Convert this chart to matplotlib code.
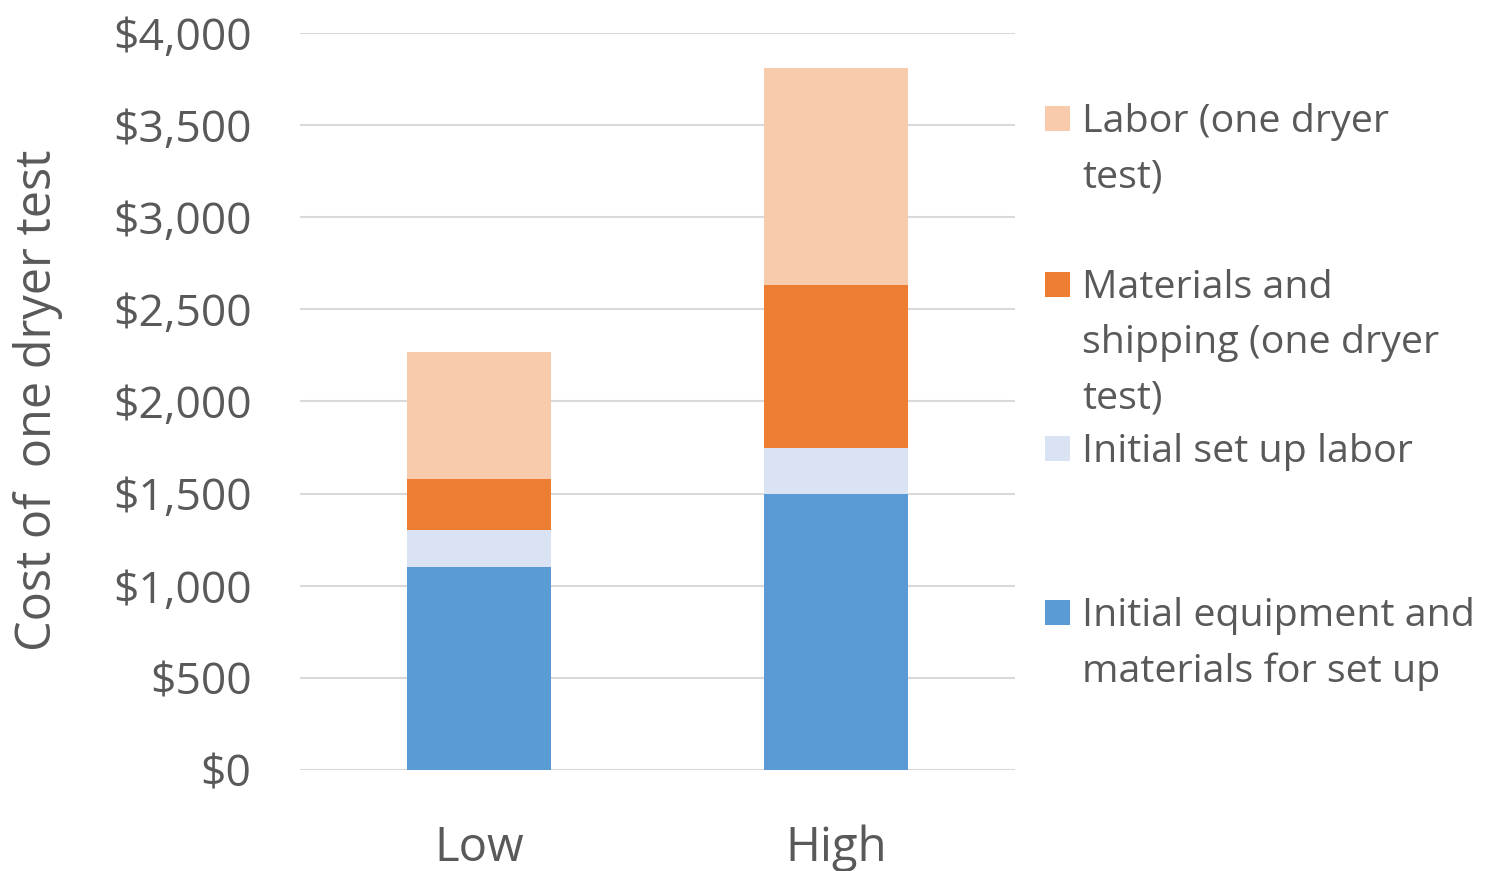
import matplotlib
matplotlib.use("Agg")
import matplotlib.pyplot as plt
from matplotlib.patches import Rectangle
import numpy as np

categories = ["Low", "High"]
equipment = [1100, 1500]
setup_labor = [200, 250]
materials = [280, 880]
labor = [690, 1180]

series_labels = [
    "Initial equipment and\nmaterials for set up",
    "Initial set up labor",
    "Materials and\nshipping (one dryer\ntest)",
    "Labor (one dryer\ntest)",
]
series_values = [equipment, setup_labor, materials, labor]
colors = ["#5B9BD5", "#DAE3F3", "#ED7D31", "#F8CBAD"]
yticks = [0, 500, 1000, 1500, 2000, 2500, 3000, 3500, 4000]
ytick_labels = ["$0", "$500", "$1,000", "$1,500", "$2,000", "$2,500", "$3,000", "$3,500", "$4,000"]

TXT = "#595959"
plt.rcParams['font.family'] = ['Open Sans', 'DejaVu Sans']

W, H = 1485, 871
fig = plt.figure(figsize=(W / 100, H / 100), dpi=100)
ax = fig.add_axes([300 / W, 1 - 770 / H, (1015 - 300) / W, (770 - 33) / H])

x = np.arange(len(categories))
bottom = np.zeros(len(categories))
for vals, col in zip(series_values, colors):
    ax.bar(x, vals, width=0.404, bottom=bottom, color=col, zorder=3)
    bottom += np.array(vals)

ax.set_xlim(-0.5, 1.5)
ax.set_ylim(0, 4000)
ax.set_yticks(yticks)
ax.set_yticklabels(ytick_labels)
ax.set_xticks(x)
ax.set_xticklabels(categories)
ax.tick_params(axis='y', length=0, pad=35, labelsize=32, labelcolor=TXT)
ax.tick_params(axis='x', length=0, pad=39, labelsize=34, labelcolor=TXT)
ax.grid(axis='y', color="#D9D9D9", linewidth=1.5, zorder=0)
for s in ax.spines.values():
    s.set_visible(False)
fig.text(38 / W, 1 - 400 / H, "Cost of  one dryer test", rotation=90, fontsize=35,
         color=TXT, ha='center', va='center')

# Legend entries (manual placement to mimic Excel layout)
entry_centers = [612, 448, 284, 118]  # first-line centers in pixels
for i in [3, 2, 1, 0]:
    yc = entry_centers[i]
    fig.patches.append(Rectangle((1045 / W, 1 - (yc + 13) / H), 25 / W, 25 / H,
                                 transform=fig.transFigure, facecolor=colors[i],
                                 edgecolor='none'))
    fig.text(1082 / W, 1 - (yc - 15) / H, series_labels[i], fontsize=28.4, color=TXT,
             ha='left', va='top', linespacing=1.6)

fig.savefig("out.png", dpi=100)
